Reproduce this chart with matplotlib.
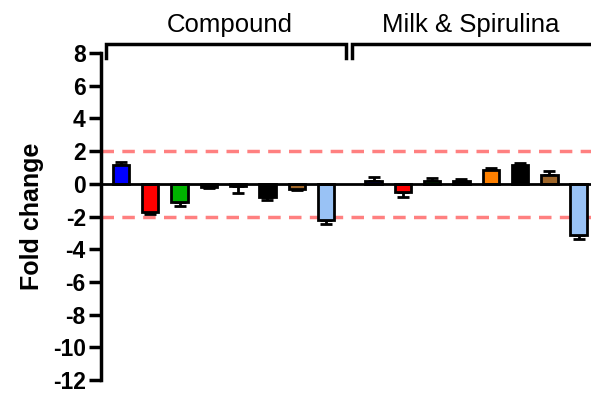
import matplotlib
matplotlib.use("Agg")
import matplotlib.pyplot as plt
import numpy as np

plt.rcParams['font.family'] = ['Liberation Sans', 'DejaVu Sans']
plt.rcParams['axes.unicode_minus'] = False

groups = ["Compound", "Milk & Spirulina"]
compound_vals = [1.13, -1.74, -1.13, -0.2, -0.15, -0.83, -0.3, -2.2]
compound_err = [0.22, 0.12, 0.24, 0.05, 0.4, 0.15, 0.08, 0.24]
milk_vals = [0.17, -0.48, 0.17, 0.14, 0.83, 1.13, 0.55, -3.15]
milk_err = [0.24, 0.35, 0.18, 0.16, 0.12, 0.12, 0.2, 0.24]
bar_colors = ["#0000ff", "#ff0000", "#00b400", "#000000",
              "#ff8000", "#000000", "#a0672a", "#99c2f5"]

vals = np.array(compound_vals + milk_vals)
errs = np.array(compound_err + milk_err)
colors = bar_colors + bar_colors
x = np.concatenate([np.arange(8), np.arange(8) + 8.62])

fig = plt.figure(figsize=(5.91, 3.94), dpi=100)
ax = fig.add_axes([0.171, 0.035, 0.829, 0.831])

ax.axhline(2, color="#ff8080", lw=2.5, ls=(0, (3.6, 2.4)), zorder=1)
ax.axhline(-2, color="#ff8080", lw=2.5, ls=(0, (3.6, 2.4)), zorder=1)

lower = np.where(vals < 0, errs, 0)
upper = np.where(vals >= 0, errs, 0)
ax.errorbar(x, vals, yerr=[lower, upper], fmt="none", ecolor="black",
            elinewidth=2, capsize=4, capthick=2, zorder=2)
ax.bar(x, vals, width=0.56, color=colors, edgecolor="black", linewidth=2, zorder=3)
ax.axhline(0, color="black", lw=2, zorder=4)

ax.set_xlim(-0.68, 16.04)
ax.set_ylim(-12, 8)
ax.set_yticks(np.arange(-12, 9, 2))
ax.tick_params(axis="y", width=2.5, length=9, labelsize=16.5, pad=2)
for lab in ax.get_yticklabels():
    lab.set_fontweight("bold")
ax.set_xticks([])
for s in ["top", "right", "bottom"]:
    ax.spines[s].set_visible(False)
ax.spines["left"].set_linewidth(2.5)
ax.set_ylabel("Fold change", fontsize=18, fontweight="bold", labelpad=6)

# group brackets on top
by, bt = 8.55, 7.7
for (x0, x1), name in zip([(-0.51, 7.68), (7.88, 16.3)], groups):
    ax.plot([x0, x0, x1, x1], [bt, by, by, bt], color="black", lw=2.5,
            clip_on=False, solid_joinstyle="miter")
ax.text(3.7, 9.7, groups[0], ha="center", va="center", fontsize=18.5)
ax.text(11.95, 9.7, groups[1], ha="center", va="center", fontsize=18.5)

fig.savefig("out.png", dpi=100)
